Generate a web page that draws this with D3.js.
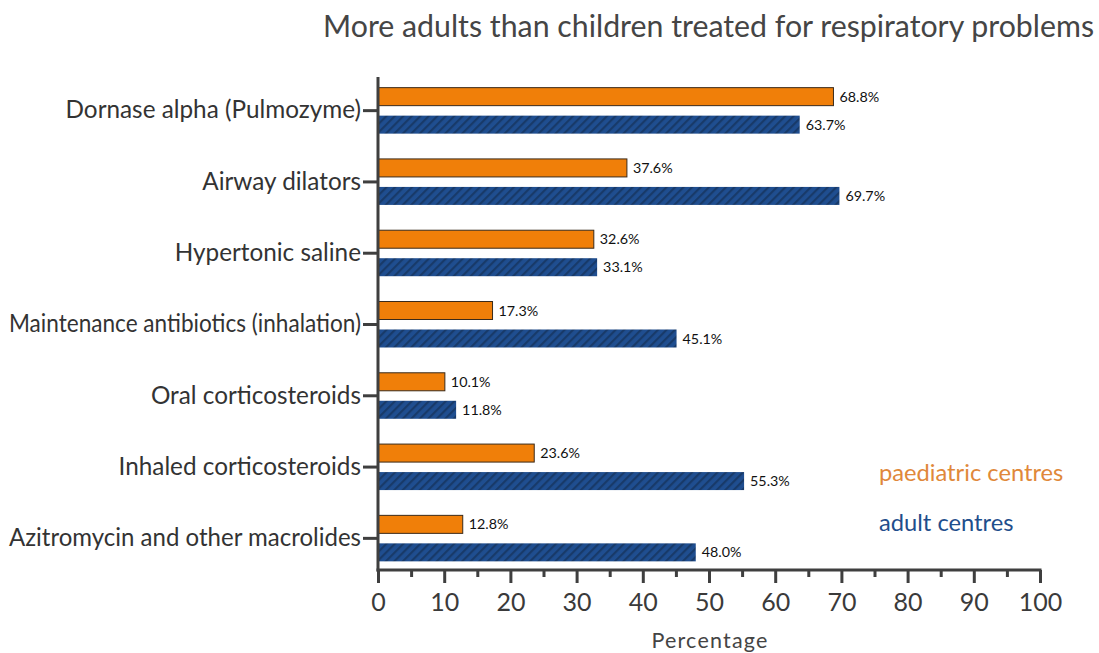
<!DOCTYPE html>
<html>
<head>
<meta charset="utf-8">
<script src="https://cdn.jsdelivr.net/npm/d3@7"></script>
<style>
  html, body { margin: 0; padding: 0; background: #fff; }
  svg { display: block; font-family: Lato, "Open Sans", sans-serif; }
</style>
</head>
<body>
<svg id="chart" width="1099" height="653"></svg>
<script>
// Respiratory treatments, share of centres (%)
const categories = [
  "Dornase alpha (Pulmozyme)",
  "Airway dilators",
  "Hypertonic saline",
  "Maintenance antibiotics (inhalation)",
  "Oral corticosteroids",
  "Inhaled corticosteroids",
  "Azitromycin and other macrolides"
];
const paediatric = [68.8, 37.6, 32.6, 17.3, 10.1, 23.6, 12.8];
const adult = [63.7, 69.7, 33.1, 45.1, 11.8, 55.3, 48.0];
const seriesNames = ["paediatric centres", "adult centres"];
const xTicks = [0, 10, 20, 30, 40, 50, 60, 70, 80, 90, 100];
const xMinorTicks = [5, 15, 25, 35, 45, 55, 65, 75, 85, 95];

const svg = d3.select("#chart");
const axisColor = "#3f3f3f";
const orange = "#f07f09";
const blue = "#1f4e90";

const plotLeft = 378, plotRight = 1040, plotTop = 75, plotBottom = 574, axisY = 570;

const x = d3.scaleLinear().domain([0, 100]).range([plotLeft, plotRight]);
const y = d3.scaleBand().domain(categories).range([plotTop, plotBottom]);
const inner = d3.scaleBand().domain(seriesNames).range([-23, 23]).paddingInner(0.357);

// diagonal hatch for adult bars
const defs = svg.append("defs");
const pat = defs.append("pattern")
  .attr("id", "hatch")
  .attr("patternUnits", "userSpaceOnUse")
  .attr("width", 6).attr("height", 6)
  .attr("patternTransform", "rotate(45)");
pat.append("rect").attr("width", 6).attr("height", 6).attr("fill", blue);
pat.append("rect").attr("x", 0).attr("width", 2.2).attr("height", 6).attr("fill", "#183a69");

// title
svg.append("text")
  .attr("x", 1094).attr("y", 37)
  .attr("text-anchor", "end")
  .attr("font-size", 30.3)
  .attr("fill", "#454545")
  .text("More adults than children treated for respiratory problems");

const rows = categories.map((c, i) => ({ cat: c, values: [
  { series: seriesNames[0], value: paediatric[i] },
  { series: seriesNames[1], value: adult[i] }
]}));

const groups = svg.append("g").selectAll("g")
  .data(rows).join("g")
  .attr("transform", d => `translate(0,${y(d.cat) + y.bandwidth() / 2})`);

groups.selectAll("rect")
  .data(d => d.values).join("rect")
  .attr("x", x(0))
  .attr("y", d => inner(d.series))
  .attr("width", d => x(d.value) - x(0))
  .attr("height", inner.bandwidth())
  .attr("fill", d => d.series === seriesNames[0] ? orange : "url(#hatch)")
  .attr("stroke", d => d.series === seriesNames[0] ? "#3a2a1a" : "none")
  .attr("stroke-width", 1);

groups.selectAll("text.val")
  .data(d => d.values).join("text")
  .attr("class", "val")
  .attr("x", d => x(d.value) + 6)
  .attr("y", d => inner(d.series) + inner.bandwidth() / 2)
  .attr("dy", "0.35em")
  .attr("font-size", 14.3)
  .attr("fill", "#111")
  .text(d => d.value.toFixed(1) + "%");

// y axis
const yAxis = d3.axisLeft(y).tickSize(15).tickPadding(2);
const gy = svg.append("g").attr("transform", `translate(${plotLeft},0)`).call(yAxis);
gy.select(".domain").remove();
gy.selectAll(".tick line").attr("stroke", axisColor).attr("stroke-width", 3);
gy.selectAll(".tick text").attr("font-size", 24.3).attr("fill", "#333").attr("font-family", "Lato, sans-serif");
// keep long category names inside the left margin
const maxLabel = 352;
gy.selectAll(".tick text").each(function () {
  if (this.getComputedTextLength() > maxLabel) {
    d3.select(this).attr("textLength", maxLabel).attr("lengthAdjust", "spacingAndGlyphs");
  }
});
svg.append("line")
  .attr("x1", plotLeft).attr("x2", plotLeft)
  .attr("y1", 77).attr("y2", axisY + 1.5)
  .attr("stroke", axisColor).attr("stroke-width", 3);

// x axis
const xAxis = d3.axisBottom(x).tickValues(xTicks).tickSize(13).tickPadding(10).tickFormat(d3.format("d"));
const gx = svg.append("g").attr("transform", `translate(0,${axisY})`).call(xAxis);
gx.select(".domain").remove();
gx.selectAll(".tick line").attr("stroke", axisColor).attr("stroke-width", 3);
gx.selectAll(".tick text").attr("font-size", 25).attr("fill", "#3a3a3a").attr("font-family", "Lato, sans-serif");
const gxMinor = svg.append("g").attr("transform", `translate(0,${axisY})`)
  .call(d3.axisBottom(x).tickValues(xMinorTicks).tickSize(7).tickFormat(""));
gxMinor.select(".domain").remove();
gxMinor.selectAll(".tick line").attr("stroke", axisColor).attr("stroke-width", 3);
svg.append("line")
  .attr("x1", plotLeft - 1.5).attr("x2", plotRight + 1.5)
  .attr("y1", axisY).attr("y2", axisY)
  .attr("stroke", axisColor).attr("stroke-width", 3);

// x axis title
svg.append("text")
  .attr("x", 710).attr("y", 648)
  .attr("text-anchor", "middle")
  .attr("font-size", 21.5)
  .attr("letter-spacing", 1.2)
  .attr("fill", "#444")
  .text("Percentage");

// legend
const legendColors = ["#e0883a", "#1f4e8c"];
svg.append("g").selectAll("text")
  .data(seriesNames).join("text")
  .attr("x", 879)
  .attr("y", (d, i) => 481 + i * 50)
  .attr("font-size", 23.7)
  .attr("fill", (d, i) => legendColors[i])
  .text(d => d);
</script>
</body>
</html>
